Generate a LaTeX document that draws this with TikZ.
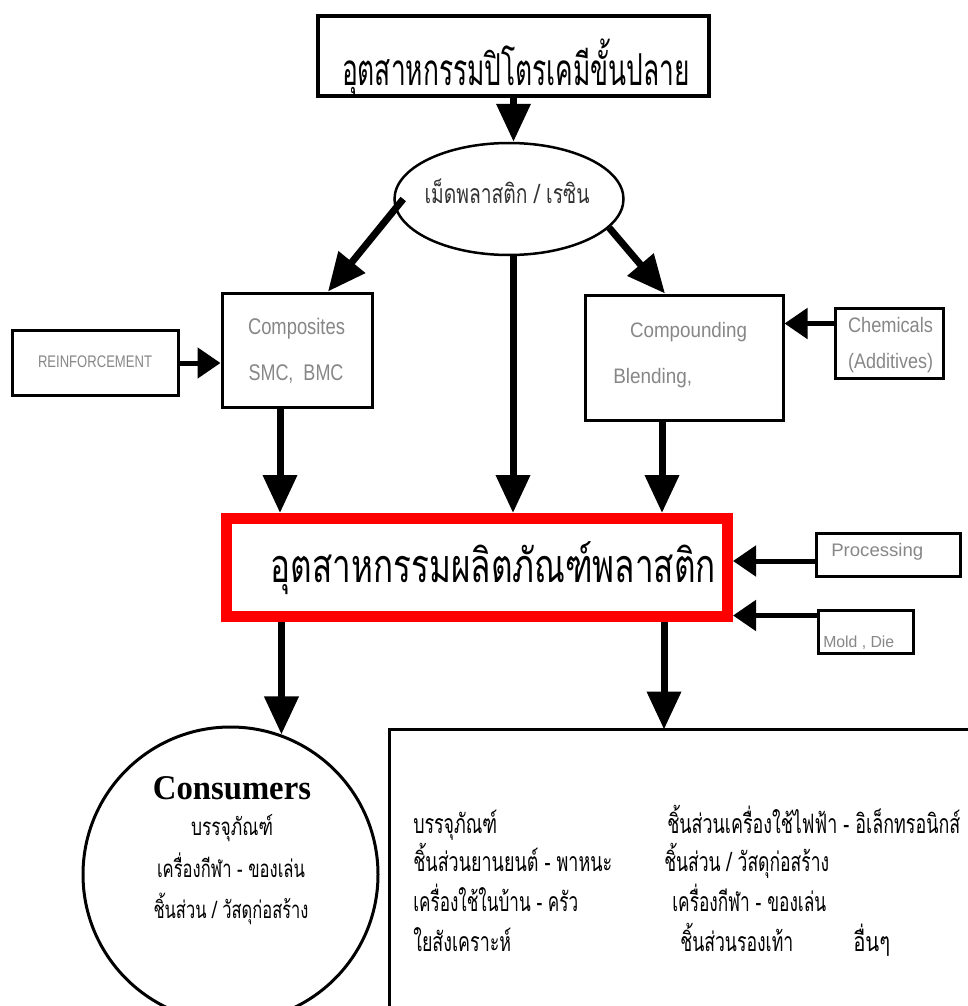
\documentclass[tikz,border=0pt]{standalone}
\usepackage{fontspec}
\usepackage{graphicx}
\setmainfont{Liberation Sans}
\newfontfamily\thaifont[Script=Thai]{Loma}
\newfontfamily\serifbold{Liberation Serif}
\usetikzlibrary{arrows.meta,shapes.geometric}
\newlength\px \setlength\px{0.75pt}
\newcommand\fitw[2]{\resizebox{#1\px}{\height}{#2}}
\definecolor{txtgray}{RGB}{135,135,135}
\definecolor{boxred}{RGB}{255,0,0}
\begin{document}
\begin{tikzpicture}[x=0.75pt,y=-0.75pt,
  box/.style={draw=black,rectangle,line width=3\px,inner sep=0pt},
  txt/.style={inner sep=0pt,anchor=base},
  txtl/.style={inner sep=0pt,anchor=base west},
  gtxt/.style={txt,text=txtgray,font=\fontsize{17}{17}\selectfont},
  thbig/.style={txt,font=\thaifont\fontsize{33}{33}\selectfont},
  thsm/.style={txtl,font=\thaifont\fontsize{20}{20}\selectfont},
  thcirc/.style={txt,font=\thaifont\fontsize{18}{18}\selectfont},
  varrow/.style={line width=5.25pt,-{Triangle[length=28.5pt,width=24.75pt]}},
  harrow/.style={line width=3.75pt,-{Triangle[length=17.25pt,width=22.5pt]}}
]
\useasboundingbox (0,0) rectangle (967,1006);
\fill[white] (0,0) rectangle (967,1006);

% boxes
\node[box,line width=3.5\px,minimum width=391\px,minimum height=80\px] (top) at (513.5,56) {};
\node[draw=black,ellipse,line width=2.5\px,minimum width=229\px,minimum height=112\px,inner sep=0pt] (ell) at (509,199) {};
\node[box,minimum width=150\px,minimum height=114\px] (comp) at (297,350) {};
\node[box,minimum width=166\px,minimum height=65\px] (reinf) at (95,363) {};
\node[box,minimum width=198\px,minimum height=125\px] (cmpd) at (684,357.5) {};
\node[box,minimum width=108\px,minimum height=70\px] (chem) at (889,343) {};
\node[draw=boxred,rectangle,line width=11\px,minimum width=501\px,minimum height=98\px,inner sep=0pt] (red) at (477,567.5) {};
\node[box,minimum width=144\px,minimum height=43\px] (proc) at (888,554.5) {};
\node[box,minimum width=95\px,minimum height=43\px] (mold) at (865.5,631.5) {};
\node[draw=black,circle,line width=3\px,minimum size=295\px,inner sep=0pt] (cons) at (230.5,874.5) {};
\draw[line width=3\px] (975,729.5) -- (389.5,729.5) -- (389.5,1015);
\coordinate (bbtop) at (664,729.5);

% texts
\node[thbig] (ttop) at (516,86) {\fitw{348}{อุตสาหกรรมปิโตรเคมีขั้นปลาย}};
\node[txt,text=black!80,font=\thaifont\fontsize{20}{20}\selectfont] (tell) at (507,203) {\fitw{165}{เม็ดพลาสติก / เรซิน}};
\node[gtxt] (tcomp1) at (296.5,334) {\fitw{97}{Composites}};
\node[gtxt] (tcomp2) at (296,380) {\fitw{95}{SMC,\ \ BMC}};
\node[gtxt,font=\fontsize{12.6}{12.6}\selectfont] (treinf) at (95,367) {\fitw{114}{REINFORCEMENT}};
\node[gtxt,font=\fontsize{15.7}{15.7}\selectfont] (tcmpd1) at (688.5,337) {\fitw{117}{Compounding}};
\node[txtl,text=txtgray,font=\fontsize{15.7}{15.7}\selectfont] (tcmpd2) at (613,383) {\fitw{79}{Blending,}};
\node[gtxt,font=\fontsize{15.7}{15.7}\selectfont] (tchem1) at (890.5,332) {\fitw{85}{Chemicals}};
\node[gtxt,font=\fontsize{15.7}{15.7}\selectfont] (tchem2) at (890.5,368) {\fitw{85}{(Additives)}};
\node[thbig,font=\thaifont\fontsize{35}{35}\selectfont] (tred) at (493.5,582) {\fitw{445}{อุตสาหกรรมผลิตภัณฑ์พลาสติก}};
\node[txtl,text=txtgray,font=\fontsize{13.6}{13.6}\selectfont] (tproc) at (831,556) {\fitw{92}{Processing}};
\node[txtl,text=txtgray,font=\fontsize{12}{12}\selectfont] (tmold) at (823,647) {\fitw{71}{Mold , Die}};

\node[txt,font=\serifbold\bfseries\fontsize{26}{26}\selectfont] (tcons) at (232,799) {\fitw{158}{Consumers}};
\node[thcirc] (tc1) at (232,835) {\fitw{82}{บรรจุภัณฑ์}};
\node[thcirc] (tc2) at (231,877) {\fitw{148}{เครื่องกีฬา - ของเล่น}};
\node[thcirc] (tc3) at (231,918) {\fitw{155}{ชิ้นส่วน / วัสดุก่อสร้าง}};

\node[thsm] (b1) at (413,833) {\fitw{84}{บรรจุภัณฑ์}};
\node[thsm] (b2) at (413,871) {\fitw{199}{ชิ้นส่วนยานยนต์ - พาหนะ}};
\node[thsm] (b3) at (413,911) {\fitw{165}{เครื่องใช้ในบ้าน - ครัว}};
\node[thsm] (b4) at (413,951) {\fitw{98}{ใยสังเคราะห์}};
\node[thsm] (b5) at (667,833) {\fitw{293}{ชิ้นส่วนเครื่องใช้ไฟฟ้า - อิเล็กทรอนิกส์}};
\node[thsm] (b6) at (664,871) {\fitw{165}{ชิ้นส่วน / วัสดุก่อสร้าง}};
\node[thsm] (b7) at (672,911) {\fitw{154}{เครื่องกีฬา - ของเล่น}};
\node[thsm] (b8) at (680,951) {\fitw{113}{ชิ้นส่วนรองเท้า}};
\node[thsm] (b9) at (853,951) {\fitw{37}{อื่นๆ}};

% connectors
\draw[varrow] (top.south) -- (top.south |- ell.north);
\draw[varrow] ([xshift=10\px]ell.west) -- ([xshift=31\px]comp.north);
\draw[varrow] (ell.-16) -- ([xshift=-19\px]cmpd.north);
\draw[varrow] ([xshift=4\px]ell.south) -- ([xshift=4\px]ell.south |- red.north);
\draw[varrow] ([xshift=-17\px]comp.south) -- ([xshift=-17\px]comp.south |- red.north);
\draw[varrow] ([xshift=-22\px]cmpd.south) -- ([xshift=-22\px]cmpd.south |- red.north);
\draw[harrow] (reinf.east) -- (reinf.east -| comp.west);
\draw[harrow] ([yshift=-17\px]chem.north west) -- ([yshift=-17\px]chem.north west -| cmpd.east);
\draw[harrow] ([yshift=-6.5\px]proc.west) -- ([yshift=-6.5\px]proc.west -| red.east);
\draw[harrow] ([yshift=-7\px]mold.north west) -- ([yshift=-7\px]mold.north west -| red.east);
\draw[varrow] (red.south -| cons.70) -- (cons.70);
\draw[varrow] (red.south -| bbtop) -- (bbtop);
\end{tikzpicture}
\end{document}
